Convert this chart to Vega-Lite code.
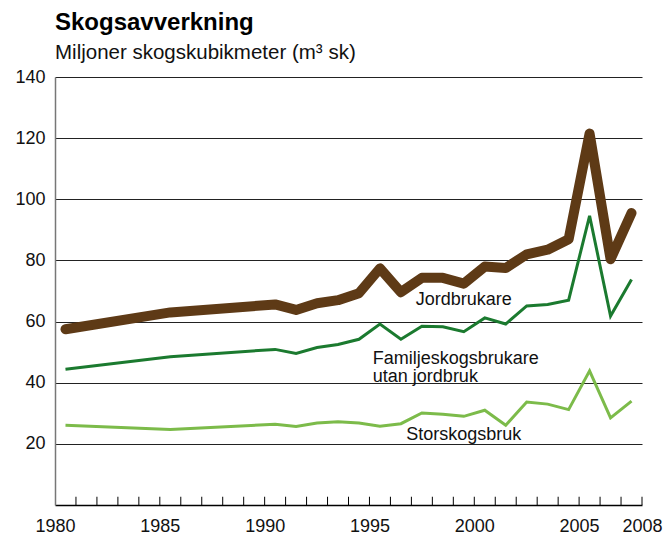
{
  "$schema": "https://vega.github.io/schema/vega-lite/v6.json",
  "width": 587,
  "height": 428,
  "autosize": {"type": "none"},
  "padding": {"left": 55, "top": 77, "right": 23, "bottom": 34},
  "background": "white",
  "title": {
    "text": "Skogsavverkning",
    "subtitle": "Miljoner skogskubikmeter (m³ sk)",
    "anchor": "start",
    "frame": "group",
    "font": "Liberation Sans",
    "fontSize": 24,
    "fontWeight": "bold",
    "color": "#000",
    "subtitleFont": "Liberation Sans",
    "subtitleFontSize": 20.5,
    "subtitleColor": "#111",
    "subtitlePadding": 7.5,
    "offset": 5
  },
  "config": {
    "view": {"stroke": null},
    "axis": {"labelFont": "Liberation Sans", "labelFontSize": 18, "labelColor": "#111"}
  },
  "datasets": {
    "series": [
      {"series": "Jordbrukare", "t": 1980.5, "value": 57.5},
      {"series": "Jordbrukare", "t": 1985.5, "value": 63.0},
      {"series": "Jordbrukare", "t": 1990.5, "value": 65.6},
      {"series": "Jordbrukare", "t": 1991.5, "value": 63.8},
      {"series": "Jordbrukare", "t": 1992.5, "value": 66.0},
      {"series": "Jordbrukare", "t": 1993.5, "value": 67.0},
      {"series": "Jordbrukare", "t": 1994.5, "value": 69.3},
      {"series": "Jordbrukare", "t": 1995.5, "value": 77.4},
      {"series": "Jordbrukare", "t": 1996.5, "value": 69.6},
      {"series": "Jordbrukare", "t": 1997.5, "value": 74.3},
      {"series": "Jordbrukare", "t": 1998.5, "value": 74.3},
      {"series": "Jordbrukare", "t": 1999.5, "value": 72.4},
      {"series": "Jordbrukare", "t": 2000.5, "value": 78.0},
      {"series": "Jordbrukare", "t": 2001.5, "value": 77.5},
      {"series": "Jordbrukare", "t": 2002.5, "value": 82.0},
      {"series": "Jordbrukare", "t": 2003.5, "value": 83.5},
      {"series": "Jordbrukare", "t": 2004.5, "value": 86.9},
      {"series": "Jordbrukare", "t": 2005.5, "value": 121.5},
      {"series": "Jordbrukare", "t": 2006.5, "value": 80.4},
      {"series": "Jordbrukare", "t": 2007.5, "value": 95.5},
      {"series": "Familjeskogsbrukare utan jordbruk", "t": 1980.5, "value": 44.4},
      {"series": "Familjeskogsbrukare utan jordbruk", "t": 1985.5, "value": 48.5},
      {"series": "Familjeskogsbrukare utan jordbruk", "t": 1990.5, "value": 50.9},
      {"series": "Familjeskogsbrukare utan jordbruk", "t": 1991.5, "value": 49.6},
      {"series": "Familjeskogsbrukare utan jordbruk", "t": 1992.5, "value": 51.5},
      {"series": "Familjeskogsbrukare utan jordbruk", "t": 1993.5, "value": 52.5},
      {"series": "Familjeskogsbrukare utan jordbruk", "t": 1994.5, "value": 54.2},
      {"series": "Familjeskogsbrukare utan jordbruk", "t": 1995.5, "value": 59.2},
      {"series": "Familjeskogsbrukare utan jordbruk", "t": 1996.5, "value": 54.2},
      {"series": "Familjeskogsbrukare utan jordbruk", "t": 1997.5, "value": 58.5},
      {"series": "Familjeskogsbrukare utan jordbruk", "t": 1998.5, "value": 58.3},
      {"series": "Familjeskogsbrukare utan jordbruk", "t": 1999.5, "value": 56.7},
      {"series": "Familjeskogsbrukare utan jordbruk", "t": 2000.5, "value": 61.2},
      {"series": "Familjeskogsbrukare utan jordbruk", "t": 2001.5, "value": 59.2},
      {"series": "Familjeskogsbrukare utan jordbruk", "t": 2002.5, "value": 65.1},
      {"series": "Familjeskogsbrukare utan jordbruk", "t": 2003.5, "value": 65.6},
      {"series": "Familjeskogsbrukare utan jordbruk", "t": 2004.5, "value": 67.0},
      {"series": "Familjeskogsbrukare utan jordbruk", "t": 2005.5, "value": 94.6},
      {"series": "Familjeskogsbrukare utan jordbruk", "t": 2006.5, "value": 61.8},
      {"series": "Familjeskogsbrukare utan jordbruk", "t": 2007.5, "value": 73.8},
      {"series": "Storskogsbruk", "t": 1980.5, "value": 26.1},
      {"series": "Storskogsbruk", "t": 1985.5, "value": 24.7},
      {"series": "Storskogsbruk", "t": 1990.5, "value": 26.4},
      {"series": "Storskogsbruk", "t": 1991.5, "value": 25.7},
      {"series": "Storskogsbruk", "t": 1992.5, "value": 26.8},
      {"series": "Storskogsbruk", "t": 1993.5, "value": 27.2},
      {"series": "Storskogsbruk", "t": 1994.5, "value": 26.8},
      {"series": "Storskogsbruk", "t": 1995.5, "value": 25.8},
      {"series": "Storskogsbruk", "t": 1996.5, "value": 26.6},
      {"series": "Storskogsbruk", "t": 1997.5, "value": 30.1},
      {"series": "Storskogsbruk", "t": 1998.5, "value": 29.7},
      {"series": "Storskogsbruk", "t": 1999.5, "value": 29.0},
      {"series": "Storskogsbruk", "t": 2000.5, "value": 31.0},
      {"series": "Storskogsbruk", "t": 2001.5, "value": 26.1},
      {"series": "Storskogsbruk", "t": 2002.5, "value": 33.7},
      {"series": "Storskogsbruk", "t": 2003.5, "value": 33.0},
      {"series": "Storskogsbruk", "t": 2004.5, "value": 31.2},
      {"series": "Storskogsbruk", "t": 2005.5, "value": 43.9},
      {"series": "Storskogsbruk", "t": 2006.5, "value": 28.5},
      {"series": "Storskogsbruk", "t": 2007.5, "value": 34.0}
    ],
    "labels": [
      {"text": "Jordbrukare", "t": 1999.5, "value": 67.0, "anchor": "center"},
      {"text": "Storskogsbruk", "t": 1999.5, "value": 23.0, "anchor": "center"},
      {"text": "Familjeskogsbrukare", "t": 1995.16, "value": 47.9, "anchor": "left"},
      {"text": "utan jordbruk", "t": 1995.16, "value": 41.9, "anchor": "left"}
    ],
    "ticks": [
      {"year": 1981}, {"year": 1982}, {"year": 1983}, {"year": 1984}, {"year": 1985},
      {"year": 1986}, {"year": 1987}, {"year": 1988}, {"year": 1989}, {"year": 1990},
      {"year": 1991}, {"year": 1992}, {"year": 1993}, {"year": 1994}, {"year": 1995},
      {"year": 1996}, {"year": 1997}, {"year": 1998}, {"year": 1999}, {"year": 2000},
      {"year": 2001}, {"year": 2002}, {"year": 2003}, {"year": 2004}, {"year": 2005},
      {"year": 2006}, {"year": 2007}, {"year": 2008}
    ]
  },
  "layer": [
    {
      "data": {"name": "ticks"},
      "mark": {"type": "rule", "color": "#000", "strokeWidth": 1},
      "encoding": {
        "x": {
          "field": "year",
          "type": "quantitative",
          "scale": {"domain": [1980, 2008], "nice": false, "zero": false},
          "axis": {
            "title": null,
            "values": [1980, 1985, 1990, 1995, 2000, 2005, 2008],
            "format": "d",
            "labelFlush": false,
            "labelOverlap": false,
            "grid": false,
            "ticks": false,
            "domainColor": "#000",
            "domainWidth": 1.5,
            "labelPadding": 12
          }
        },
        "y": {
          "datum": 0,
          "type": "quantitative",
          "scale": {"domain": [0, 140], "nice": false},
          "axis": {
            "title": null,
            "values": [20, 40, 60, 80, 100, 120, 140],
            "format": "d",
            "grid": true,
            "gridColor": "#222",
            "gridWidth": 1,
            "ticks": false,
            "domainColor": "#777",
            "domainWidth": 1.5,
            "labelPadding": 10
          }
        },
        "y2": {"datum": 2.7}
      }
    },
    {
      "data": {"name": "series"},
      "transform": [{"filter": "datum.series === 'Storskogsbruk'"}],
      "mark": {"type": "line", "color": "#7cbb4a", "strokeWidth": 3, "strokeJoin": "miter"},
      "encoding": {
        "x": {"field": "t", "type": "quantitative"},
        "y": {"field": "value", "type": "quantitative"}
      }
    },
    {
      "data": {"name": "series"},
      "transform": [{"filter": "datum.series === 'Familjeskogsbrukare utan jordbruk'"}],
      "mark": {"type": "line", "color": "#1b7a2f", "strokeWidth": 3, "strokeJoin": "miter"},
      "encoding": {
        "x": {"field": "t", "type": "quantitative"},
        "y": {"field": "value", "type": "quantitative"}
      }
    },
    {
      "data": {"name": "series"},
      "transform": [{"filter": "datum.series === 'Jordbrukare'"}],
      "mark": {"type": "line", "color": "#5e3a16", "strokeWidth": 10, "strokeCap": "round", "strokeJoin": "round"},
      "encoding": {
        "x": {"field": "t", "type": "quantitative"},
        "y": {"field": "value", "type": "quantitative"}
      }
    },
    {
      "data": {"name": "labels"},
      "transform": [{"filter": "datum.anchor === 'center'"}],
      "mark": {"type": "text", "align": "center", "baseline": "middle", "font": "Liberation Sans", "fontSize": 18, "color": "#111"},
      "encoding": {
        "x": {"field": "t", "type": "quantitative"},
        "y": {"field": "value", "type": "quantitative"},
        "text": {"field": "text"}
      }
    },
    {
      "data": {"name": "labels"},
      "transform": [{"filter": "datum.anchor === 'left'"}],
      "mark": {"type": "text", "align": "left", "baseline": "middle", "font": "Liberation Sans", "fontSize": 18, "color": "#111"},
      "encoding": {
        "x": {"field": "t", "type": "quantitative"},
        "y": {"field": "value", "type": "quantitative"},
        "text": {"field": "text"}
      }
    }
  ]
}
